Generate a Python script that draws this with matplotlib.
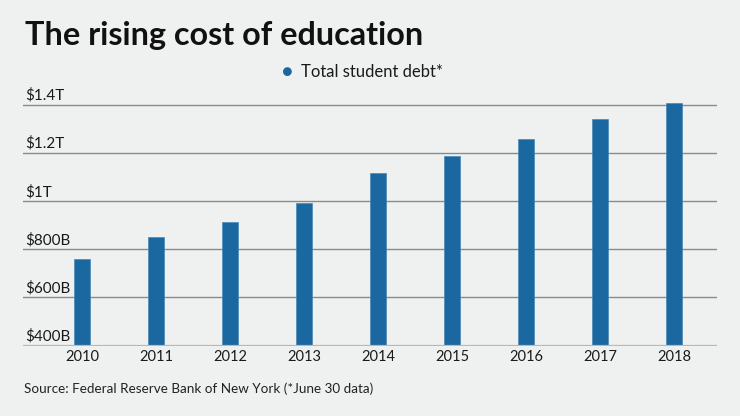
import matplotlib.pyplot as plt

years = ['2010', '2011', '2012', '2013', '2014', '2015', '2016', '2017', '2018']
debt_b = [760, 850, 912, 992, 1117, 1189, 1258, 1342, 1405]  # billions of dollars
ytick_vals = [400, 600, 800, 1000, 1200, 1400]
ytick_labels = ['$400B', '$600B', '$800B', '$1T', '$1.2T', '$1.4T']

bg = '#eff0f0'
blue = '#1b67a0'

plt.rcParams['font.family'] = ['Lato', 'DejaVu Sans']

fig = plt.figure(figsize=(7.4, 4.16), dpi=100, facecolor=bg)
ax = fig.add_axes([23 / 740, 1 - 345.7 / 416, 694 / 740, 0.591])
ax.set_facecolor(bg)

x = range(len(years))
ax.bar(x, debt_b, width=0.216, color=blue, edgecolor='#4a88b8', linewidth=0.5, zorder=3)

ax.set_xlim(-0.797, 8.58)
ax.set_ylim(400, 1420)

# gridlines
for v in ytick_vals[1:]:
    ax.axhline(v, color='#8a8a8a', lw=1, zorder=1)
ax.axhline(400, color='#b8b8b8', lw=1.6, zorder=4)

for v, lab in zip(ytick_vals, ytick_labels):
    ax.text(0.003, v + 8, lab, transform=ax.get_yaxis_transform(), ha='left', va='bottom',
            fontsize=11, color='#1a1a1a', zorder=5)

ax.set_xticks(list(x))
ax.set_xticklabels(years, fontsize=10.5, color='#1a1a1a')
ax.tick_params(axis='x', length=0, pad=3)
ax.set_yticks([])
for s in ax.spines.values():
    s.set_visible(False)

fig.text(25 / 740, 1 - 45 / 416, 'The rising cost of education', fontsize=23.3, fontweight='bold',
         color='#111111', ha='left', va='baseline')
fig.text(287 / 740, 1 - 72 / 416, '\u25cf', fontsize=13, color=blue, ha='center', va='center')
fig.text(301 / 740, 1 - 72 / 416, 'Total student debt*', fontsize=12, color='#1a1a1a',
         ha='left', va='center')
fig.text(24 / 740, 1 - 393 / 416, 'Source: Federal Reserve Bank of New York (*June 30 data)',
         fontsize=9.7, color='#222222', ha='left', va='baseline')

fig.savefig('out.png', dpi=100, facecolor=bg)
